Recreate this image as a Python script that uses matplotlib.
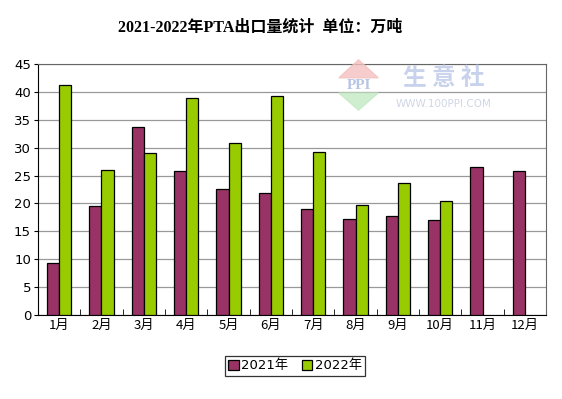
import numpy as np
import matplotlib.pyplot as plt
from matplotlib.patches import Polygon

plt.rcParams['font.family'] = ['DejaVu Sans', 'Noto Sans CJK SC']

# 数据：单位 万吨
months = ['1月', '2月', '3月', '4月', '5月', '6月', '7月', '8月', '9月', '10月', '11月', '12月']
y2021 = [9.4, 19.5, 33.7, 25.8, 22.6, 21.9, 19.0, 17.3, 17.7, 17.1, 26.5, 25.8]
y2022 = [41.2, 26.0, 29.1, 38.9, 30.9, 39.2, 29.3, 19.7, 23.6, 20.4, np.nan, np.nan]
series_names = ['2021年', '2022年']

fig = plt.figure(figsize=(5.62, 3.99), dpi=100)
ax = fig.add_axes([0.0676, 0.2105, 0.904, 0.629])

x = np.arange(len(months))
w = 0.285
ax.bar(x - w / 2, y2021, w, color='#993366', edgecolor='black', linewidth=0.9,
       label=series_names[0], zorder=3)
ax.bar(x + w / 2, y2022, w, color='#99CC00', edgecolor='black', linewidth=0.9,
       label=series_names[1], zorder=3)

ax.set_xlim(-0.5, len(months) - 0.5)
ax.set_ylim(0, 45)
ax.set_yticks(np.arange(0, 46, 5))
ax.yaxis.grid(True, color='#999999', linewidth=0.9, zorder=0)

# 刻度线放在类别之间
ax.set_xticks(x)
ax.set_xticklabels(months, fontsize=9.5, family=['Noto Sans CJK SC'])
ax.tick_params(axis='x', length=0, pad=3)
ax.set_xticks(np.arange(0.5, len(months) - 0.5, 1), minor=True)
ax.tick_params(axis='x', which='minor', direction='in', length=4, color='black')
ax.tick_params(axis='y', labelsize=9.5, length=3, direction='out', pad=2)

for side in ['top', 'right']:
    ax.spines[side].set_color('#666666')
for side in ['left', 'bottom']:
    ax.spines[side].set_color('black')

# 水印
fig.patches.append(Polygon([[0.603, 0.805], [0.638, 0.850], [0.673, 0.805]], closed=True,
                           transform=fig.transFigure, color='#f4c0c0', alpha=0.8, zorder=1))
fig.patches.append(Polygon([[0.603, 0.767], [0.638, 0.724], [0.673, 0.767]], closed=True,
                           transform=fig.transFigure, color='#c4eac4', alpha=0.8, zorder=1))
fig.text(0.638, 0.786, 'PPI', color='#b8c4e4', fontsize=11, fontweight='bold',
         family='Liberation Serif', ha='center', va='center', zorder=2)
fig.text(0.789, 0.805, '生 意 社', color='#c8d2ec', fontsize=17, fontweight='bold',
         family=['Noto Sans CJK SC'], ha='center', va='center', zorder=2)
fig.text(0.789, 0.739, 'WWW.100PPI.COM', color='#d0d6e6', fontsize=7.5,
         ha='center', va='center', zorder=2)

fig.text(0.463, 0.930, '2021-2022年PTA出口量统计  单位：万吨', fontsize=11.5,
         fontweight='bold', family=['Liberation Serif', 'Noto Sans CJK SC'],
         ha='center', va='center')

leg = ax.legend(loc='center', bbox_to_anchor=(295 / 562, 1 - 366 / 399),
                bbox_transform=fig.transFigure, ncol=2, fancybox=False,
                edgecolor='black', handlelength=0.8, handleheight=0.8,
                handletextpad=0.2, columnspacing=1.0, borderpad=0.25,
                prop={'family': ['DejaVu Sans', 'Noto Sans CJK SC'], 'size': 9.5})
leg.get_frame().set_linewidth(0.9)

fig.savefig('out.png', dpi=100, facecolor='white')
